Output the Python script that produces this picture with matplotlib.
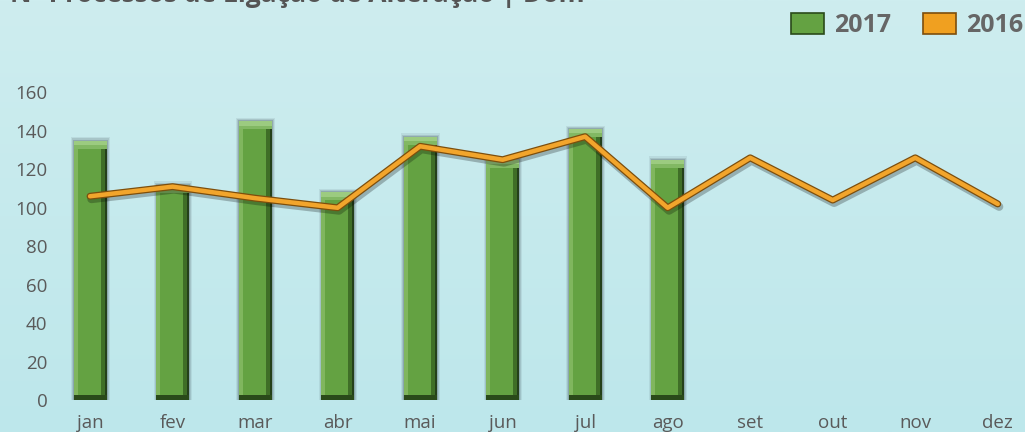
import numpy as np
import matplotlib
matplotlib.use("Agg")
import matplotlib.pyplot as plt
import matplotlib.patheffects as pe
from matplotlib.patches import Patch

months = ['jan', 'fev', 'mar', 'abr', 'mai', 'jun', 'jul', 'ago', 'set', 'out', 'nov', 'dez']
val_2017 = [135, 112, 145, 108, 137, 125, 141, 125]
val_2016 = [106, 111, 105, 100, 132, 125, 137, 100, 126, 104, 126, 102]
yticks = [0, 20, 40, 60, 80, 100, 120, 140, 160]

plt.rcParams['font.family'] = ['Open Sans', 'DejaVu Sans']

fig = plt.figure(figsize=(10.25, 4.32), dpi=100)

# background gradient
bg = fig.add_axes([0, 0, 1, 1], zorder=0)
grad = np.linspace(0, 1, 256).reshape(-1, 1)
top = np.array([206, 237, 239]) / 255
bot = np.array([189, 231, 235]) / 255
img = top + (bot - top) * grad[:, :, None]
bg.imshow(img, aspect='auto', extent=[0, 1, 0, 1])
bg.axis('off')

ax = fig.add_axes([60 / 1025, 32 / 432, 965 / 1025, 321 / 432], zorder=1)
ax.patch.set_alpha(0)

x = np.arange(len(months))
xb = x[:len(val_2017)]
vb = np.array(val_2017)
w = 0.40

# soft grey shadow around bars
for k, a in [(0.07, 0.10), (0.045, 0.16), (0.02, 0.24)]:
    ax.bar(xb + 0.005, vb + k * 35, width=w + k, bottom=-k * 10, color='#46545a', alpha=a, zorder=2)

# bar body with bevel
ax.bar(xb, vb, width=w, color='#64a242', zorder=3)
ax.bar(xb - w / 2 + 0.025, vb, width=0.05, color='#80b65e', zorder=4)
ax.bar(xb + w / 2 - 0.035, vb, width=0.07, color='#3f6e27', zorder=4)
ax.bar(xb + w / 2 - 0.012, vb, width=0.024, color='#24401a', zorder=4)
ax.bar(xb, 2.2, bottom=vb - 2.2, width=w, color='#9ccb80', zorder=5)
ax.bar(xb, 2.0, bottom=vb - 4.2, width=w, color='#82b863', zorder=5)
ax.bar(xb, 2.5, bottom=0, width=w, color='#2a4a1a', zorder=5)

ax.plot(x, val_2016, color='#f2a52c', lw=3.2, solid_capstyle='round', solid_joinstyle='round', zorder=6,
        path_effects=[pe.SimpleLineShadow(offset=(1, -2), alpha=0.25, linewidth=6),
                      pe.Stroke(linewidth=5, foreground='#7d4e0c'),
                      pe.Normal()])

ax.set_xlim(-0.364, 11.33)
ax.set_ylim(0, 167)
ax.set_yticks(yticks)
ax.set_xticks(x)
ax.set_xticklabels(months)
ax.tick_params(length=0, labelsize=13.5, colors='#5a5a5a')
ax.tick_params(axis='y', pad=9)
ax.tick_params(axis='x', pad=10)
for s in ax.spines.values():
    s.set_visible(False)

handles = [Patch(facecolor='#64a242', edgecolor='#2a4a1a', linewidth=1.2, label='2017'),
           Patch(facecolor='#f0a020', edgecolor='#7d4e0c', linewidth=1.2, label='2016')]
leg = fig.legend(handles=handles, loc='upper right', bbox_to_anchor=(1.02, 1.022), ncol=2, frameon=False,
                 prop={'size': 18, 'weight': 'bold'}, handlelength=1.3, handleheight=0.9,
                 handletextpad=0.4, columnspacing=1.3)
for t in leg.get_texts():
    t.set_color('#666666')

fig.text(10 / 1025, 1 - 2 / 432, 'Nº Processos de Ligação de Alteração | Dom', fontsize=19, fontweight='bold',
         color='#555555', va='baseline', ha='left')

fig.savefig('out.png', dpi=100)
